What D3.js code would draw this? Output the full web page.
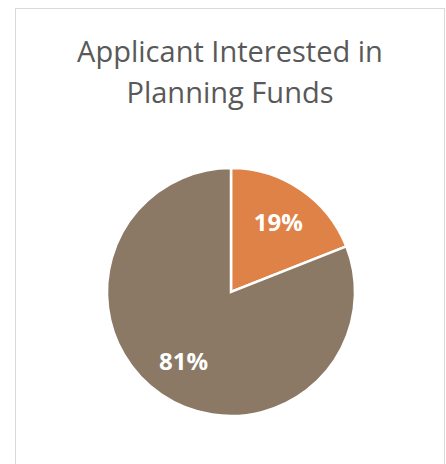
<!DOCTYPE html>
<html>
<head>
<meta charset="utf-8">
<script src="https://cdn.jsdelivr.net/npm/d3@7"></script>
<style>
  html, body { margin: 0; padding: 0; background: #fff; }
  svg { display: block; }
</style>
</head>
<body>
<svg id="chart" width="446" height="464"></svg>
<script>
// Share of applicants interested in planning funds
const categories = ["Interested", "Not interested"];
const values = [19, 81];
const sliceColors = ["#DF8247", "#8B7966"];
const titleLines = ["Applicant Interested in", "Planning Funds"];

const svg = d3.select("#chart");

// chart frame
svg.append("rect")
  .attr("x", 15.5).attr("y", 8.5)
  .attr("width", 429).attr("height", 470)
  .attr("fill", "#fff")
  .attr("stroke", "#d9d9d9").attr("stroke-width", 1);

// title
const title = svg.append("text")
  .attr("text-anchor", "middle")
  .attr("font-family", "'Open Sans', Lato, sans-serif")
  .attr("font-size", 28)
  .attr("fill", "#595959");
title.selectAll("tspan")
  .data(titleLines)
  .join("tspan")
  .attr("x", 230)
  .attr("y", (d, i) => 62 + i * 41)
  .text(d => d);

// fit first title line to its set width
const firstLine = title.select("tspan").node();
const w = firstLine.getComputedTextLength();
title.attr("font-size", 28 * 306 / w);

const cx = 231, cy = 292, r = 124;
const g = svg.append("g").attr("transform", `translate(${cx},${cy})`);

const pie = d3.pie().sort(null).value(d => d.value);
const data = pie(categories.map((c, i) => ({ name: c, value: values[i] })));
const arc = d3.arc().innerRadius(0).outerRadius(r);
const color = d3.scaleOrdinal().domain(categories).range(sliceColors);

g.selectAll("path")
  .data(data)
  .join("path")
  .attr("d", arc)
  .attr("fill", d => color(d.data.name))
  .attr("stroke", "#fff")
  .attr("stroke-width", 2.5)
  .attr("stroke-linejoin", "miter");

// percentage labels
const labelArc = d3.arc().innerRadius(r * 0.68).outerRadius(r * 0.68);
const total = d3.sum(values);
g.selectAll("text.lbl")
  .data(data)
  .join("text")
  .attr("class", "lbl")
  .attr("transform", d => `translate(${labelArc.centroid(d)})`)
  .attr("text-anchor", "middle")
  .attr("dy", "0.36em")
  .attr("font-family", "'Open Sans', Lato, sans-serif")
  .attr("font-weight", "bold")
  .attr("font-size", 24)
  .attr("fill", "#fff")
  .text(d => Math.round(d.data.value / total * 100) + "%");
</script>
</body>
</html>
